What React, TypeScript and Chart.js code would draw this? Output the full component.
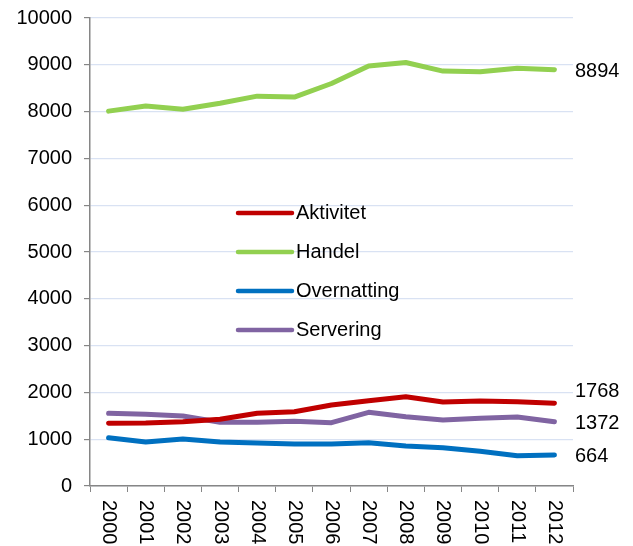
import React, { useEffect, useRef } from "react";
import { Chart, registerables } from "chart.js";

Chart.register(...registerables);

const years = ["2000", "2001", "2002", "2003", "2004", "2005", "2006", "2007", "2008", "2009", "2010", "2011", "2012"];
const aktivitet = [1340, 1346, 1374, 1425, 1553, 1588, 1731, 1823, 1908, 1795, 1816, 1801, 1768];
const handel = [8010, 8120, 8050, 8180, 8330, 8310, 8600, 8975, 9050, 8865, 8850, 8925, 8894];
const overnatting = [1032, 940, 1004, 940, 919, 897, 897, 925, 855, 818, 741, 647, 664];
const servering = [1553, 1532, 1496, 1361, 1361, 1382, 1353, 1575, 1481, 1410, 1446, 1474, 1372];
const yTicks = [0, 1000, 2000, 3000, 4000, 5000, 6000, 7000, 8000, 9000, 10000];

const FONT = "'Liberation Sans', Arial, sans-serif";
const FONT_SIZE = 20;

const customPlugin = {
  id: "custom",
  afterDraw(chart: any) {
    const ctx = chart.ctx;
    const xs = chart.scales.x;
    const ys = chart.scales.y;
    const area = chart.chartArea;
    ctx.save();
    ctx.fillStyle = "#000";
    ctx.font = `${FONT_SIZE}px ${FONT}`;
    years.forEach((lab, i) => {
      const x = xs.getPixelForValue(i);
      ctx.save();
      ctx.translate(x, area.bottom + 14);
      ctx.rotate(Math.PI / 2);
      ctx.textAlign = "left";
      ctx.textBaseline = "middle";
      ctx.fillText(lab, 0, 0);
      ctx.restore();
    });
    const legX1 = 238, legX2 = 292, legY0 = 213, legGap = 39;
    chart.data.datasets.forEach((ds: any, i: number) => {
      const y = legY0 + i * legGap;
      ctx.strokeStyle = ds.borderColor;
      ctx.lineWidth = 4.5;
      ctx.lineCap = "round";
      ctx.beginPath();
      ctx.moveTo(legX1, y);
      ctx.lineTo(legX2, y);
      ctx.stroke();
      ctx.textAlign = "left";
      ctx.textBaseline = "middle";
      ctx.fillText(ds.label, legX2 + 4, y);
    });
    const last = years.length - 1;
    const items = chart.data.datasets
      .map((ds: any) => ({ v: ds.data[last], y: ys.getPixelForValue(ds.data[last]) + 2 }))
      .sort((a: any, b: any) => b.y - a.y);
    const minGap = 32;
    for (let i = 1; i < items.length; i++) {
      if (items[i - 1].y - items[i].y < minGap) items[i].y = items[i - 1].y - minGap;
    }
    items.forEach((it: any) => {
      ctx.textAlign = "left";
      ctx.textBaseline = "middle";
      ctx.fillText(String(it.v), area.right + 2, it.y);
    });
    ctx.restore();
  },
};

export default function App() {
  const ref = useRef<HTMLCanvasElement | null>(null);
  useEffect(() => {
    if (!ref.current) return;
    const mk = (label: string, data: number[], color: string) => ({
      label,
      data,
      borderColor: color,
      backgroundColor: color,
      borderWidth: 5,
      pointRadius: 0,
      tension: 0,
      borderCapStyle: "round",
      borderJoinStyle: "round",
      fill: false,
    });
    const chart = new Chart(ref.current, {
      type: "line",
      data: {
        labels: years,
        datasets: [
          mk("Aktivitet", aktivitet, "#C00000"),
          mk("Handel", handel, "#92D050"),
          mk("Overnatting", overnatting, "#0070C0"),
          mk("Servering", servering, "#8064A2"),
        ] as any,
      },
      options: {
        responsive: false,
        animation: false,
        layout: { padding: { top: 18, right: 60, left: 0, bottom: 0 } },
        plugins: { legend: { display: false }, tooltip: { enabled: false } },
        scales: {
          x: {
            type: "category",
            offset: true,
            grid: {
              offset: true,
              drawOnChartArea: false,
              drawTicks: true,
              tickLength: 6,
              tickColor: "#868686",
            },
            border: { color: "#868686", width: 1.5 },
            ticks: { display: false },
            afterFit: (s: any) => {
              s.height = 60;
              s.paddingLeft = 0;
              s.paddingRight = 0;
            },
          },
          y: {
            min: 0,
            max: 10000,
            afterBuildTicks: (s: any) => {
              s.ticks = yTicks.map((v) => ({ value: v }));
            },
            grid: {
              color: "#D9E2F3",
              lineWidth: 1.2,
              drawTicks: true,
              tickLength: 6,
              tickColor: "#868686",
            },
            border: { color: "#868686", width: 1.5 },
            ticks: {
              color: "#000",
              padding: 12,
              font: { family: FONT, size: FONT_SIZE },
              callback: (v: any) => String(v),
            },
            afterFit: (s: any) => {
              s.width = 90;
              s.paddingTop = 0;
              s.paddingBottom = 0;
            },
          },
        },
      } as any,
      plugins: [customPlugin],
    });
    return () => chart.destroy();
  }, []);
  return (
    <div style={{ position: "absolute", left: 0, top: 0, width: 633, height: 546, background: "#fff" }}>
      <canvas ref={ref} width={633} height={546} style={{ display: "block" }} />
    </div>
  );
}
